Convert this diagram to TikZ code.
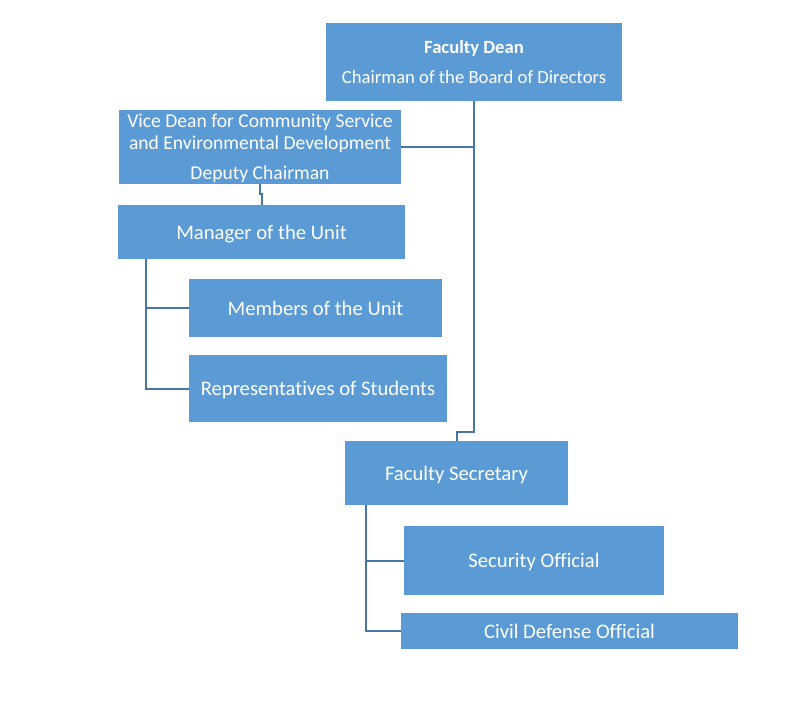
\documentclass[tikz,border=0pt]{standalone}
\usepackage{fontspec}
\setmainfont[Ligatures=NoCommon]{Carlito}
\definecolor{boxblue}{RGB}{91,155,213}
\definecolor{linkblue}{RGB}{72,119,165}
\begin{document}
\begin{tikzpicture}[x=0.75pt,y=-0.75pt,
  box/.style={draw=none,fill=boxblue,text=white,inner sep=0pt,align=center,font=\fontsize{15.5}{18.6}\selectfont},
  link/.style={draw=linkblue,line width=1.5pt}]
\useasboundingbox[fill=white] (0,0) rectangle (810,701);
\node[box,font=\fontsize{14}{16.8}\selectfont,minimum width=222pt,minimum height=58.5pt] (dean) at (474,62)
  {\textbf{Faculty Dean}\\[5pt]Chairman of the Board of Directors};
\node[box,font=\fontsize{14.7}{17.64}\selectfont,minimum width=211.5pt,minimum height=55.5pt,text depth=0pt] (vice) at (260,147)
  {Vice Dean for Community Service\\[-1.1pt]and Environmental Development\\[4.9pt]Deputy Chairman};
\node[box,minimum width=215.25pt,minimum height=40.5pt,text depth=0pt] (manager) at (261.5,232) {Manager of the Unit};
\node[box,minimum width=189.75pt,minimum height=43.5pt,text depth=0pt] (members) at (315.5,308) {Members of the Unit};
\node[box,minimum width=193.5pt,minimum height=50.25pt,text depth=0pt] (reps) at (318,388.5) {Representatives of Students};
\node[box,minimum width=167.25pt,minimum height=48pt,text depth=0pt] (sec) at (456.5,473) {Faculty Secretary};
\node[box,minimum width=195pt,minimum height=51.75pt,text depth=0pt] (security) at (534,560.5) {Security Official};
\node[box,minimum width=252.75pt,minimum height=27pt,text depth=0pt] (civil) at (569.5,631) {Civil Defense Official};
\draw[link] (dean.south) -- ++(0,331) -| (sec.north);
\draw[link] (vice.east) -- (vice.east -| dean.south);
\draw[link] (vice.south) -- ++(0,10) -| (manager.north);
\draw[link] ([xshift=21pt]manager.south west) |- (members.west);
\draw[link] ([xshift=21pt]manager.south west) |- (reps.west);
\draw[link] ([xshift=15.75pt]sec.south west) |- (security.west);
\draw[link] ([xshift=15.75pt]sec.south west) |- (civil.west);
\end{tikzpicture}
\end{document}
